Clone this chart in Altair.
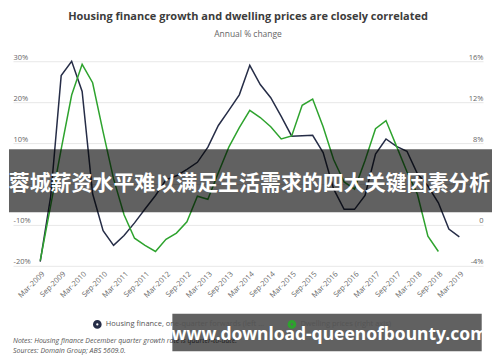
import altair as alt
import pandas as pd

quarters = [
    "Mar-2009", "Jun-2009", "Sep-2009", "Dec-2009",
    "Mar-2010", "Jun-2010", "Sep-2010", "Dec-2010",
    "Mar-2011", "Jun-2011", "Sep-2011", "Dec-2011",
    "Mar-2012", "Jun-2012", "Sep-2012", "Dec-2012",
    "Mar-2013", "Jun-2013", "Sep-2013", "Dec-2013",
    "Mar-2014", "Jun-2014", "Sep-2014", "Dec-2014",
    "Mar-2015", "Jun-2015", "Sep-2015", "Dec-2015",
    "Mar-2016", "Jun-2016", "Sep-2016", "Dec-2016",
    "Mar-2017", "Jun-2017", "Sep-2017", "Dec-2017",
    "Mar-2018", "Jun-2018", "Sep-2018", "Dec-2018",
    "Mar-2019",
]

# Housing finance, one-quarter forwards (left axis, %)
housing_finance = [
    -19.0, -3.0, 26.5, 30.0,
    22.6, -2.4, -11.4, -15.0,
    -12.6, -9.5, -6.1, -2.8,
    1.0, 2.0, 3.6, 5.3,
    9.0, 14.3, 18.0, 21.8,
    29.0, 24.3, 21.1, 16.5,
    11.7, 11.8, 11.9, 7.7,
    -1.2, -6.2, -6.2, -2.8,
    7.3, 11.0, 9.2, 8.0,
    2.5, -0.5, -4.6, -11.0,
    -12.9,
]

# Dwelling prices (right axis, %)
dwelling_prices = [
    -3.5, 1.9, 7.4, 12.7,
    15.7, 13.9, 9.1, 4.5,
    1.0, -1.3, -2.0, -2.6,
    -1.4, -0.8, 0.3, 2.8,
    2.5, 5.1, 7.6, 9.5,
    11.2, 10.5, 9.6, 8.4,
    8.7, 11.7, 12.3, 9.6,
    6.4, 4.2, 3.5, 6.3,
    9.4, 10.2, 7.7, 5.2,
    3.0, -1.1, -2.6,
]

series_names = [
    "Housing finance, one-quarter forwards (left axis)",
    "Dwelling prices (right axis)",
]
series_colors = ["#262d47", "#2ea32e"]

left_ticks = [-20, -10, 0, 10, 20, 30]
right_ticks = [-4, 0, 4, 8, 12, 16]
tick_labels = quarters[::2]

title_text = "Housing finance growth and dwelling prices are closely correlated"
subtitle_text = "Annual % change"
notes_lines = [
    "Notes: Housing finance December quarter growth rate is quarter-to-date.",
    "Sources: Domain Group; ABS 5609.0.",
]
banner_text = "蓉城薪资水平难以满足生活需求的四大关键因素分析"
url_text = "www.download-queenofbounty.com"

rows = []
for i, (q, v) in enumerate(zip(quarters, housing_finance)):
    rows.append({"idx": i, "quarter": q, "value": v, "series": series_names[0]})
for i, (q, v) in enumerate(zip(quarters, dwelling_prices)):
    rows.append({"idx": i, "quarter": q, "value": v, "series": series_names[1]})
df = pd.DataFrame(rows)

FONT = "Open Sans"
label_expr_x = "[" + ", ".join("'%s'" % t for t in tick_labels) + "][datum.value / 2]"
pct_expr = "datum.value == 0 ? '0' : datum.value + '%'"

x_enc = alt.X(
    "idx:Q",
    scale=alt.Scale(domain=[-2.6, 42.26], nice=False, zero=False),
    axis=alt.Axis(
        values=list(range(0, 41, 2)), labelExpr=label_expr_x, labelAngle=-45,
        grid=False, domain=False, ticks=False, tickSize=0, labelPadding=4,
        labelFontSize=7.5, labelColor="#666666", labelFont=FONT, title=None,
        labelOverlap=False, labelFlush=False,
    ),
)

color_enc = alt.Color(
    "series:N",
    scale=alt.Scale(domain=series_names, range=series_colors),
    legend=alt.Legend(
        orient="none", legendX=80, legendY=259, direction="horizontal", title=None,
        symbolType="circle", symbolSize=30, symbolStrokeWidth=3.2,
        labelFontSize=7.5, labelColor="#555555", labelFont=FONT, columnPadding=18,
    ),
)

left_line = alt.Chart(df).transform_filter(
    alt.datum.series == series_names[0]
).mark_line(strokeWidth=1.5).encode(
    x=x_enc,
    y=alt.Y(
        "value:Q",
        scale=alt.Scale(domain=[-20, 30], nice=False, zero=False),
        axis=alt.Axis(
            orient="left", values=left_ticks, labelExpr=pct_expr, labelAlign="left",
            labelBaseline="bottom", labelPadding=0, ticks=False, tickSize=0, domain=False,
            grid=True, gridColor="#e8e8e8", gridWidth=1, title=None, minExtent=0,
            labelFontSize=7.5, labelColor="#666666", labelFont=FONT,
        ),
    ),
    color=color_enc,
)

right_line = alt.Chart(df).transform_filter(
    alt.datum.series == series_names[1]
).mark_line(strokeWidth=1.5).encode(
    x=x_enc,
    y=alt.Y(
        "value:Q",
        scale=alt.Scale(domain=[-4, 16], nice=False, zero=False),
        axis=alt.Axis(
            orient="right", values=right_ticks, labelExpr=pct_expr, labelAlign="right",
            labelBaseline="bottom", labelPadding=0, ticks=False, tickSize=0, domain=False,
            grid=False, title=None, minExtent=0,
            labelFontSize=7.5, labelColor="#666666", labelFont=FONT,
        ),
    ),
    color=color_enc,
)

notes_df = pd.DataFrame({"t": notes_lines, "k": [0, 1]})
notes = alt.Chart(notes_df).mark_text(
    align="left", baseline="middle", fontStyle="italic", fontSize=7,
    color="#555555", font=FONT,
).encode(x=alt.value(0), y=alt.value(280.5), text="t:N").transform_filter(alt.datum.k == 0)
sources = alt.Chart(notes_df).mark_text(
    align="left", baseline="middle", fontStyle="italic", fontSize=7,
    color="#555555", font=FONT,
).encode(x=alt.value(0), y=alt.value(290.5), text="t:N").transform_filter(alt.datum.k == 1)

banner_df = pd.DataFrame({"t": [banner_text]})
banner_rect = alt.Chart(banner_df).mark_rect(color="#000000", opacity=0.62).encode(
    x=alt.value(-4), x2=alt.value(480), y=alt.value(88.3), y2=alt.value(151.3)
)
banner_txt = alt.Chart(banner_df).mark_text(
    color="white", fontSize=21, fontWeight="bold", font="Noto Sans CJK SC",
    align="center", baseline="middle",
).encode(x=alt.value(237), y=alt.value(123), text="t:N")

url_df = pd.DataFrame({"t": [url_text]})
url_rect = alt.Chart(url_df).mark_rect(color="#000000", opacity=0.62).encode(
    x=alt.value(159.7), x2=alt.value(469.7), y=alt.value(253), y2=alt.value(290.5)
)
url_txt = alt.Chart(url_df).mark_text(
    color="white", fontSize=17.5, fontWeight="bold", font="Noto Sans",
    align="center", baseline="middle",
).encode(x=alt.value(317), y=alt.value(274.5), text="t:N")

chart = alt.layer(
    left_line, right_line, notes, sources, banner_rect, banner_txt, url_rect, url_txt
).resolve_scale(y="independent").properties(
    width=471, height=205,
    padding={"top": 2, "left": 0, "right": 0, "bottom": 0},
    title=alt.TitleParams(
        text=title_text, subtitle=subtitle_text, anchor="middle", frame="group",
        font=FONT, fontSize=11, fontWeight="bold", color="#3c3c3c",
        subtitleFont=FONT, subtitleFontSize=8.5, subtitleColor="#666666",
        subtitlePadding=8, offset=15,
    ),
).configure_view(stroke=None)

chart.save("out.html", embed_options={"renderer": "svg", "actions": False})
